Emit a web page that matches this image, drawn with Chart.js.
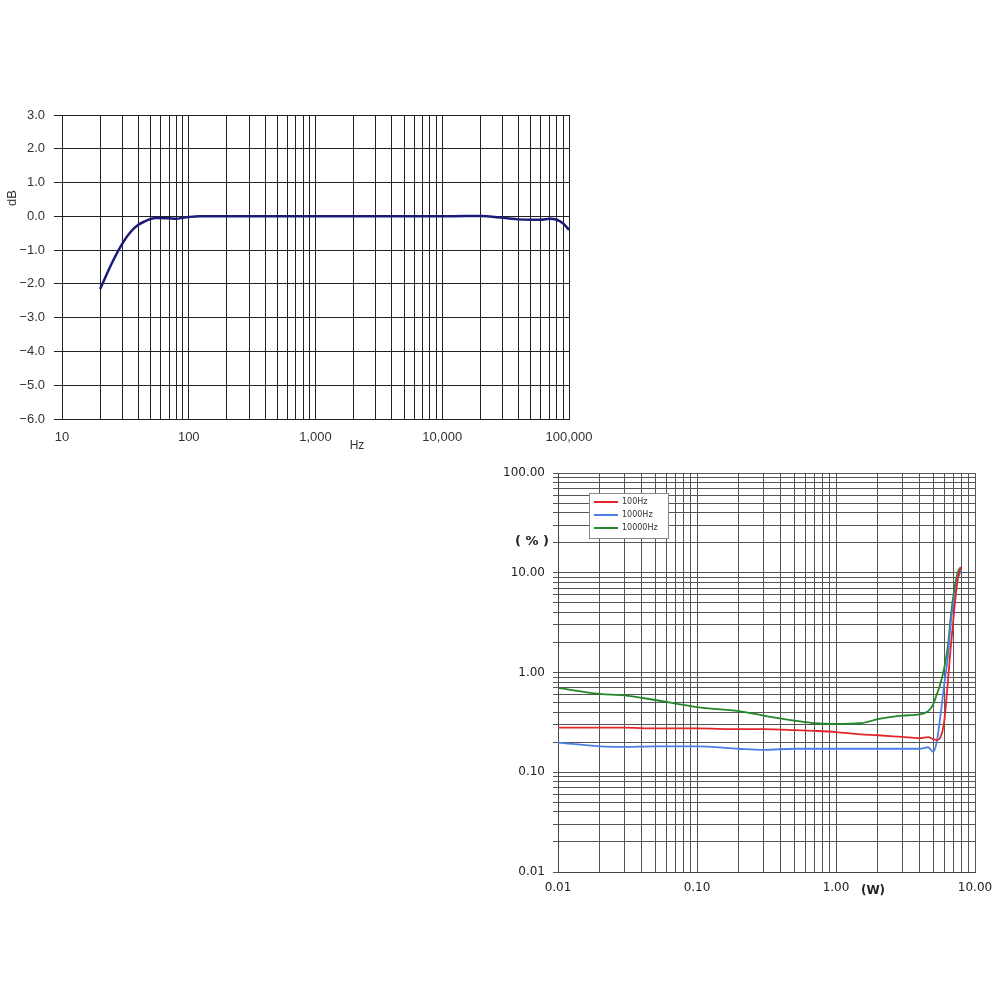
<!DOCTYPE html>
<html>
<head>
<meta charset="utf-8">
<script src="https://cdn.jsdelivr.net/npm/chart.js@4"></script>
<style>
  body { margin: 0; background: #fff; }
  #wrap { position: relative; width: 1000px; height: 1000px; background: #fff; }
  #freqChart { position: absolute; left: 0; top: 100px; }
  #thdChart { position: absolute; left: 490px; top: 455px; }
</style>
</head>
<body>
<div id="wrap">
  <canvas id="freqChart" width="600" height="360"></canvas>
  <canvas id="thdChart" width="510" height="460"></canvas>
</div>
<script>
// frequency response (top chart)
const freqHz = [20, 22, 25, 30, 35, 40, 45, 50, 55, 60, 70, 80, 90, 100, 120, 200, 500, 1000, 2000, 5000, 10000, 15000, 20000, 30000, 40000, 50000, 60000, 70000, 80000, 90000, 100000];
const responseDb = [-2.15, -1.8, -1.35, -0.8, -0.45, -0.25, -0.15, -0.08, -0.05, -0.05, -0.06, -0.07, -0.04, -0.02, 0, 0, 0, 0, 0, 0, 0, 0.01, 0.01, -0.04, -0.09, -0.1, -0.1, -0.07, -0.1, -0.21, -0.4];
const freqTickValues = [10, 100, 1000, 10000, 100000];
const freqTickLabels = ['10', '100', '1,000', '10,000', '100,000'];
const dbTickValues = [3, 2, 1, 0, -1, -2, -3, -4, -5, -6];
const dbTickLabels = ['3.0', '2.0', '1.0', '0.0', '\u22121.0', '\u22122.0', '\u22123.0', '\u22124.0', '\u22125.0', '\u22126.0'];

// distortion vs output power (bottom chart)
const powerW = [0.01, 0.02, 0.03, 0.05, 0.1, 0.2, 0.3, 0.5, 0.7, 1.0, 1.5, 2, 3, 4, 4.6, 5, 5.3, 5.6, 6.0, 6.4, 6.7, 7.1, 7.5, 7.9];
const thd100Hz = [0.28, 0.28, 0.28, 0.275, 0.275, 0.27, 0.27, 0.265, 0.26, 0.253, 0.24, 0.235, 0.226, 0.22, 0.225, 0.215, 0.21, 0.22, 0.32, 0.85, 1.83, 4.3, 8.6, 11.4];
const thd1000Hz = [0.198, 0.182, 0.18, 0.182, 0.182, 0.172, 0.168, 0.172, 0.172, 0.172, 0.172, 0.172, 0.172, 0.172, 0.178, 0.16, 0.2, 0.34, 0.75, 1.5, 3.2, 5.5, 8.5, 10.5];
const thd10000Hz = [0.70, 0.61, 0.59, 0.53, 0.45, 0.41, 0.37, 0.33, 0.31, 0.305, 0.31, 0.34, 0.37, 0.38, 0.41, 0.48, 0.6, 0.75, 1.1, 1.9, 3.7, 6.8, 10, 11.4];
const seriesNames = ['100Hz', '1000Hz', '10000Hz'];
const powerTickValues = [0.01, 0.1, 1, 10];
const powerTickLabels = ['0.01', '0.10', '1.00', '10.00'];
const pctTickValues = [0.01, 0.1, 1, 10, 100];
const pctTickLabels = ['0.01', '0.10', '1.00', '10.00', '100.00'];

// 1..9 in every decade, for the log grid
function logGrid(min, max) {
    const out = [];
    for (let d = min; d < max * 0.999; d *= 10) {
        for (let m = 1; m < 10; m++) out.push(+(d * m).toPrecision(3));
    }
    out.push(max);
    return out;
}

function labelFor(values, labels) {
    return v => {
        const i = values.findIndex(t => Math.abs(t - v) < Math.abs(t) * 1e-6 + 1e-9);
        return i >= 0 ? labels[i] : '';
    };
}

// fixed axis size, no extra room for overhanging labels
function fixSize(w, h) {
    return s => {
        if (w) s.width = w;
        if (h) s.height = h;
        s.paddingLeft = 0;
        s.paddingRight = 0;
        s.paddingTop = 0;
        s.paddingBottom = 0;
    };
}

const textPlugin = {
    id: 'axisText',
    afterDraw(chart, args, opts) {
        const ctx = chart.ctx;
        const a = chart.chartArea;
        ctx.save();
        ctx.fillStyle = opts.color;
        ctx.textAlign = 'center';
        ctx.textBaseline = 'middle';
        opts.items.forEach(it => {
            ctx.font = it.font;
            ctx.save();
            ctx.translate(a.left + it.dx, a.top + it.dy);
            if (it.rotate) ctx.rotate(it.rotate);
            ctx.fillText(it.text, 0, 0);
            ctx.restore();
        });
        ctx.restore();
    }
};

const boxLegend = {
    id: 'boxLegend',
    afterDraw(chart, args, opts) {
        if (!opts.show) return;
        const ctx = chart.ctx;
        const a = chart.chartArea;
        const x = a.left + 31, y = a.top + 20, w = 79, h = 45;
        ctx.save();
        ctx.fillStyle = '#fff';
        ctx.fillRect(x, y, w, h);
        ctx.strokeStyle = '#888';
        ctx.lineWidth = 1;
        ctx.strokeRect(x + 0.5, y + 0.5, w, h);
        ctx.font = '8px "DejaVu Sans"';
        ctx.textBaseline = 'middle';
        chart.data.datasets.forEach((ds, i) => {
            const ly = y + 9 + i * 13;
            ctx.strokeStyle = ds.borderColor;
            ctx.lineWidth = 2;
            ctx.beginPath();
            ctx.moveTo(x + 5, ly);
            ctx.lineTo(x + 29, ly);
            ctx.stroke();
            ctx.fillStyle = '#333';
            ctx.fillText(ds.label, x + 33, ly);
        });
        ctx.restore();
    }
};

document.addEventListener("DOMContentLoaded", () => {

    const fctx = document.getElementById('freqChart').getContext('2d');
    new Chart(fctx, {
        type: 'line',
        data: {
            datasets: [{
                label: 'Response',
                data: freqHz.map((f, i) => ({ x: f, y: responseDb[i] })),
                borderColor: '#1b1b78',
                borderWidth: 2.5,
                pointRadius: 0,
                cubicInterpolationMode: 'monotone',
                fill: false
            }]
        },
        options: {
            responsive: false,
            animation: false,
            layout: { padding: { left: 0, top: 15, right: 31, bottom: 0 } },
            plugins: {
                legend: { display: false },
                tooltip: { enabled: false },
                axisText: {
                    color: '#333',
                    items: [
                        { text: 'dB', dx: -50, dy: 83, font: '13px "Liberation Sans"', rotate: -Math.PI / 2 },
                        { text: 'Hz', dx: 295, dy: 331, font: '12px "Liberation Sans"' }
                    ]
                }
            },
            scales: {
                x: {
                    type: 'logarithmic',
                    min: 10,
                    max: 100000,
                    afterFit: fixSize(0, 41),
                    afterBuildTicks: s => { s.ticks = logGrid(10, 100000).map(v => ({ value: v })); },
                    grid: { color: '#222', lineWidth: 1, drawTicks: false },
                    border: { color: '#222', width: 1 },
                    ticks: {
                        autoSkip: false,
                        maxRotation: 0,
                        padding: 11,
                        color: '#333',
                        font: { family: 'Liberation Sans', size: 13 },
                        callback: labelFor(freqTickValues, freqTickLabels)
                    }
                },
                y: {
                    min: -6,
                    max: 3,
                    afterFit: fixSize(62, 0),
                    afterBuildTicks: s => { s.ticks = dbTickValues.map(v => ({ value: v })); },
                    grid: { color: '#222', lineWidth: 1, tickLength: 8 },
                    border: { color: '#222', width: 1 },
                    ticks: {
                        autoSkip: false,
                        padding: 9,
                        color: '#333',
                        font: { family: 'Liberation Sans', size: 13 },
                        callback: labelFor(dbTickValues, dbTickLabels)
                    }
                }
            }
        },
        plugins: [textPlugin]
    });

    const colors = ['#e4262c', '#4a7fe3', '#23882a'];
    const series = [thd100Hz, thd1000Hz, thd10000Hz];

    const tctx = document.getElementById('thdChart').getContext('2d');
    new Chart(tctx, {
        type: 'line',
        data: {
            datasets: series.map((vals, k) => ({
                label: seriesNames[k],
                data: powerW.map((p, i) => ({ x: p, y: vals[i] })),
                borderColor: colors[k],
                borderWidth: 1.8,
                pointRadius: 0,
                cubicInterpolationMode: 'monotone',
                fill: false
            }))
        },
        options: {
            responsive: false,
            animation: false,
            layout: { padding: { left: 0, top: 18, right: 25, bottom: 0 } },
            plugins: {
                legend: { display: false },
                tooltip: { enabled: false },
                boxLegend: { show: true },
                axisText: {
                    color: '#222',
                    items: [
                        { text: '( % )', dx: -26, dy: 69, font: 'bold 13px "DejaVu Sans"' },
                        { text: '(W)', dx: 315, dy: 18 + 400, font: 'bold 12px "DejaVu Sans"' }
                    ]
                }
            },
            scales: {
                x: {
                    type: 'logarithmic',
                    min: 0.01,
                    max: 10,
                    afterFit: fixSize(0, 43),
                    afterBuildTicks: s => { s.ticks = logGrid(0.01, 10).map(v => ({ value: v })); },
                    grid: { color: '#555', lineWidth: 1, drawTicks: false },
                    border: { color: '#444', width: 1 },
                    ticks: {
                        autoSkip: false,
                        maxRotation: 0,
                        padding: 9,
                        color: '#222',
                        font: { family: 'DejaVu Sans', size: 12 },
                        callback: labelFor(powerTickValues, powerTickLabels)
                    }
                },
                y: {
                    type: 'logarithmic',
                    min: 0.01,
                    max: 100,
                    afterFit: fixSize(68, 0),
                    afterBuildTicks: s => { s.ticks = logGrid(0.01, 100).map(v => ({ value: v })); },
                    grid: { color: '#555', lineWidth: 1, tickLength: 5 },
                    border: { color: '#444', width: 1 },
                    ticks: {
                        autoSkip: false,
                        padding: 8,
                        color: '#222',
                        font: { family: 'DejaVu Sans', size: 12 },
                        callback: labelFor(pctTickValues, pctTickLabels)
                    }
                }
            }
        },
        plugins: [textPlugin, boxLegend]
    });

});
</script>
</body>
</html>
